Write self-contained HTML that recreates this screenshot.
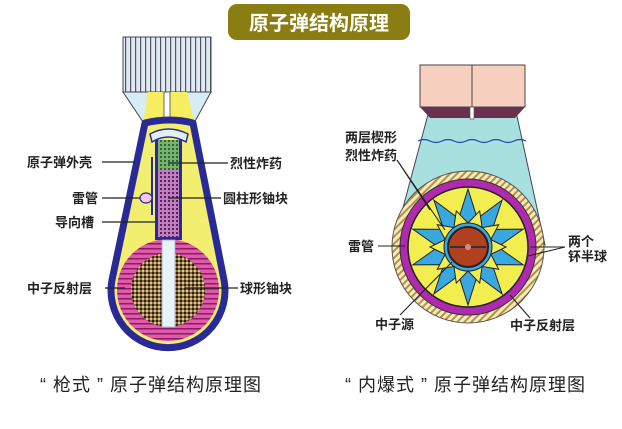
<!DOCTYPE html>
<html><head><meta charset="utf-8"><style>
html,body{margin:0;padding:0;background:#fff;}
svg{display:block;}
text{font-family:"Liberation Sans","Noto Sans CJK SC",sans-serif;}
</style></head><body>
<svg width="622" height="429" viewBox="0 0 622 429" xmlns="http://www.w3.org/2000/svg">
<defs>
<pattern id="vs" width="5" height="10" patternUnits="userSpaceOnUse"><rect width="5" height="10" fill="#dfeaf2"/><rect width="1.2" height="10" fill="#556"/></pattern>
<pattern id="hs" width="10" height="5" patternUnits="userSpaceOnUse"><rect width="10" height="5" fill="#e05aa8"/><rect width="10" height="1.5" y="3" fill="#8a1a6a"/></pattern>
<pattern id="ck" width="4" height="4" patternUnits="userSpaceOnUse"><rect width="4" height="4" fill="#8a6a3a"/><rect width="2" height="2" fill="#2a2010"/><rect x="2" y="2" width="2" height="2" fill="#d8c890"/></pattern>
<pattern id="pk" width="4" height="4" patternUnits="userSpaceOnUse"><rect width="4" height="4" fill="#c080c0"/><rect width="2" height="2" fill="#5a2060"/></pattern>
<pattern id="gk" width="4" height="4" patternUnits="userSpaceOnUse"><rect width="4" height="4" fill="#7ab070"/><rect width="2" height="2" fill="#2a6a2a"/></pattern>
<pattern id="dh" width="5" height="5" patternUnits="userSpaceOnUse" patternTransform="rotate(45)"><rect width="5" height="5" fill="#f4ecc0"/><rect width="2" height="5" fill="#b89040"/></pattern>
</defs>
<rect width="622" height="429" fill="#fff"/>
<rect x="228" y="4" width="182" height="36" rx="9" fill="#8a7e12"/>
<text x="319" y="30" font-size="20" font-weight="bold" fill="#fff" text-anchor="middle">原子弹结构原理</text>

<rect x="123" y="37" width="88" height="55" fill="url(#vs)" stroke="#445" stroke-width="1"/>
<polygon points="123,92 211,92 193,125 145,125" fill="#d8ecf4" stroke="#445" stroke-width="1"/>
<polygon points="148,92 187,92 195,125 143,125" fill="#f4ee60"/>
<rect x="164" y="92" width="6" height="26" fill="#fff" stroke="#444" stroke-width="0.8"/>
<path d="M143,122 Q155,116 165,121 Q175,126 195,119 L195,128 L143,128 Z" fill="#fff8d8"/>
<path d="M145,123 Q170,117 193,123 L224,280 A57 57 0 1 1 112,280 Z" fill="#f2ee70" stroke="#2a2a96" stroke-width="7" stroke-linejoin="round"/>
<path d="M150,134 Q168,124 188,134 L186,142 Q168,132 152,142 Z" fill="#dff0f8" stroke="#2a2a96" stroke-width="1.5"/>
<circle cx="168" cy="290" r="51" fill="url(#hs)"/>
<circle cx="168" cy="290" r="37" fill="url(#ck)"/>
<rect x="155" y="140" width="27" height="100" fill="#2a2a96"/>
<rect x="158" y="140" width="21" height="30" fill="url(#gk)"/>
<rect x="158" y="170" width="21" height="67" fill="url(#pk)"/>
<rect x="162" y="240" width="13" height="87" fill="#e6f4f8" stroke="#aac" stroke-width="0.8"/>
<path d="M152,157 L152,215" stroke="#2a2a96" stroke-width="2" fill="none"/>
<ellipse cx="146" cy="198" rx="6" ry="5" fill="#f4c8e8" stroke="#2a2a96" stroke-width="1.2"/>
<g stroke="#222" stroke-width="1.2">
<line x1="102" y1="162" x2="135" y2="162"/>
<line x1="102" y1="198" x2="140" y2="198"/>
<line x1="102" y1="222" x2="155" y2="222"/>
<line x1="105" y1="288" x2="125" y2="288"/>
<line x1="168" y1="163" x2="228" y2="163"/>
<line x1="168" y1="198" x2="221" y2="198"/>
<line x1="185" y1="288" x2="238" y2="288"/>
</g>
<g font-size="13" font-weight="bold" fill="#222">
<text x="27" y="167">原子弹外壳</text>
<text x="72" y="203">雷管</text>
<text x="55" y="227">导向槽</text>
<text x="27" y="293">中子反射层</text>
<text x="230" y="168">烈性炸药</text>
<text x="223" y="203">圆柱形铀块</text>
<text x="240" y="293">球形铀块</text>
</g>

<polygon points="430,107 515,107 545,245 393,245" fill="#a8e0e0" stroke="#445" stroke-width="1"/>
<polygon points="420,107 525,107 515,118 430,118" fill="#6a3050"/>
<rect x="420" y="65" width="105" height="42" fill="#f8d0c0" stroke="#444" stroke-width="1"/>
<line x1="472" y1="65" x2="472" y2="107" stroke="#444" stroke-width="1"/>
<rect x="470" y="107" width="4" height="12" fill="#fff" stroke="#444" stroke-width="0.6"/>
<path d="M418,141 q6,-3 12,0 t12,0 t12,0 t12,0 t12,0 t12,0 t12,0 t12,0 t12,0" stroke="#2244aa" stroke-width="1.2" fill="none"/>
<circle cx="468" cy="247" r="76" fill="url(#dh)" stroke="#555" stroke-width="1"/>
<circle cx="468" cy="247" r="68" fill="#b02ab0" stroke="#333" stroke-width="1"/>
<circle cx="468" cy="247" r="60" fill="#f2ee50" stroke="#222" stroke-width="1.5"/>
<polygon points="468,189 477.3,218.5 502.1,200.1 492.3,229.4 523.2,229.1 498,247 523.2,264.9 492.3,264.6 502.1,293.9 477.3,275.5 468,305 458.7,275.5 433.9,293.9 443.7,264.6 412.8,264.9 438,247 412.8,229.1 443.7,229.4 433.9,200.1 458.7,218.5" fill="#3aa8e0" stroke="#222" stroke-width="1"/>
<polygon points="468,223 479.7,210.9 482.1,227.6 498.7,224.7 490.8,239.6 506,247 490.8,254.4 498.7,269.3 482.1,266.4 479.7,283.1 468,271 456.3,283.1 453.9,266.4 437.3,269.3 445.2,254.4 430,247 445.2,239.6 437.3,224.7 453.9,227.6 456.3,210.9" fill="#f2ee50" stroke="#222" stroke-width="1"/>
<circle cx="468" cy="247" r="24" fill="#3aa8e0" stroke="#222" stroke-width="1"/>
<circle cx="468" cy="247" r="20" fill="#b04020" stroke="#222" stroke-width="2"/>
<line x1="450" y1="247" x2="486" y2="247" stroke="#333" stroke-width="2"/>
<circle cx="468" cy="247" r="3" fill="#d88"/>
<g stroke="#222" stroke-width="1.1" fill="none">
<line x1="397" y1="160" x2="430" y2="210"/>
<line x1="397" y1="160" x2="445" y2="230"/>
<line x1="378" y1="246" x2="405" y2="246"/>
<line x1="565" y1="247" x2="530" y2="247"/>
<line x1="565" y1="247" x2="528" y2="256"/>
<line x1="400" y1="315" x2="452" y2="262"/>
<line x1="530" y1="318" x2="510" y2="295"/>
</g>
<g font-size="13" font-weight="bold" fill="#222">
<text x="345" y="142">两层楔形</text>
<text x="345" y="160">烈性炸药</text>
<text x="348" y="251">雷管</text>
<text x="568" y="246">两个</text>
<text x="568" y="261">钚半球</text>
<text x="375" y="329">中子源</text>
<text x="510" y="330">中子反射层</text>
</g>

<g font-size="18" fill="#222" letter-spacing="1">
<text x="40" y="391">“ 枪式 ” 原子弹结构原理图</text>
<text x="345" y="391">“ 内爆式 ” 原子弹结构原理图</text>
</g>
</svg>
</body></html>
